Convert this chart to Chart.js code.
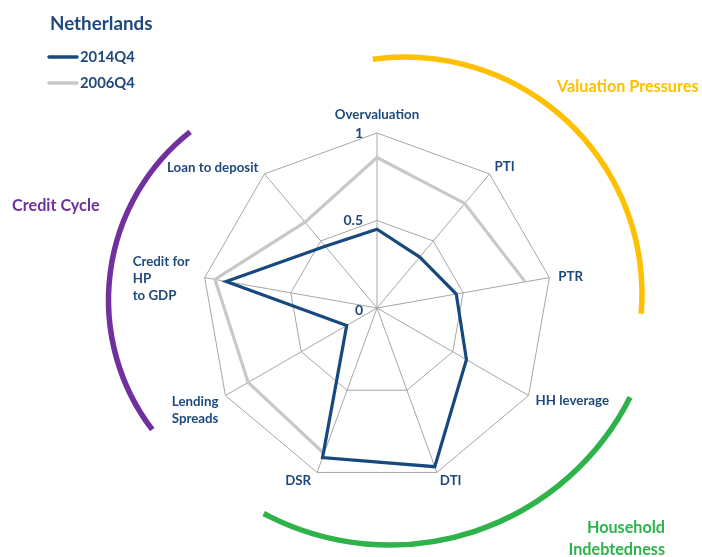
<!DOCTYPE html>
<html>
<head>
<meta charset="utf-8">
<script src="https://cdn.jsdelivr.net/npm/chart.js@4.4.1/dist/chart.umd.min.js"></script>
<style>
  html, body { margin: 0; padding: 0; background: #fff; }
  #wrap { position: relative; width: 702px; height: 557px; }
</style>
</head>
<body>
<div id="wrap"><canvas id="radar"></canvas></div>
<script>
// Data
const axisLabels = ['Overvaluation', 'PTI', 'PTR', 'HH leverage', 'DTI', 'DSR',
  ['Lending', 'Spreads'], ['Credit for', 'HP', 'to GDP'], 'Loan to deposit'];
const seriesNames = ['2014Q4', '2006Q4'];
const values2014 = [0.45, 0.38, 0.46, 0.59, 0.965, 0.91, 0.20, 0.875, 0.46];
const values2006 = [0.86, 0.78, 0.86, null, null, 0.885, 0.85, 0.94, 0.64];
const tickValues = [0, 0.5, 1];
const groupNames = ['Valuation Pressures', ['Household', 'Indebtedness'], 'Credit Cycle'];

const navy = '#1F497D';
const lineBlue = '#17497E';
const lineGrey = '#C8C8C8';
const FONT = 'Lato, "Open Sans", sans-serif';

function font(size) { return 'bold ' + size + 'px ' + FONT; }

function drawText(ctx, lines, x, y, align, lh) {
  ctx.textAlign = align;
  ctx.textBaseline = 'middle';
  [].concat(lines).forEach((t, i) => ctx.fillText(t, x, y + i * lh));
}

const overlay = {
  id: 'overlay',
  afterDatasetsDraw(chart) {
    const ctx = chart.ctx;
    const r = chart.scales.r;
    ctx.save();

    // point labels around the web
    ctx.fillStyle = navy;
    ctx.font = font(13.3);
    const off = [
      [0, -18, 'center'], [5, -7, 'left'], [9, -1, 'left'], [7, 5, 'left'],
      [3, 8, 'left'], [-6, 8, 'right'], [-7, 6, 'right'], [-72, -16, 'left'], [-6, -6, 'right']
    ];
    axisLabels.forEach((lab, i) => {
      const p = r.getPointPosition(i, r.drawingArea);
      const o = off[i];
      drawText(ctx, lab, p.x + o[0], p.y + o[1], o[2], 17);
    });

    // tick labels on the vertical axis
    ctx.font = font(14);
    tickValues.forEach(v => {
      const p = r.getPointPosition(0, r.getDistanceFromCenterForValue(v));
      drawText(ctx, String(v), r.xCenter - 14, p.y + (v === 0 ? 2 : 0), 'right', 0);
    });

    // group arcs
    ctx.lineWidth = 5.5;
    ctx.lineCap = 'butt';
    const deg = Math.PI / 180;
    const arcs = [
      ['#FFC000', 405, 294, 237, -97.8, 4.8],
      ['#2DB34A', 390, 276, 269, 26.8, 118],
      ['#7030A0', 322.5, 300, 214, 142.7, 231.8]
    ];
    arcs.forEach(a => {
      ctx.strokeStyle = a[0];
      ctx.beginPath();
      ctx.arc(a[1], a[2], a[3], a[4] * deg, a[5] * deg);
      ctx.stroke();
    });

    ctx.font = font(16.2);
    ctx.fillStyle = '#FFC000';
    drawText(ctx, groupNames[0], 557, 87, 'left', 0);
    ctx.fillStyle = '#2DB34A';
    drawText(ctx, groupNames[1], 665, 528, 'right', 22);
    ctx.fillStyle = '#7030A0';
    drawText(ctx, groupNames[2], 12, 206, 'left', 0);

    // title and legend
    ctx.fillStyle = navy;
    ctx.font = font(18.8);
    drawText(ctx, 'Netherlands', 50, 24, 'left', 0);
    ctx.font = font(14.8);
    ctx.lineWidth = 3.5;
    ctx.lineCap = 'round';
    [lineBlue, lineGrey].forEach((c, i) => {
      const y = 57 + i * 26;
      ctx.strokeStyle = c;
      ctx.beginPath();
      ctx.moveTo(49, y);
      ctx.lineTo(77, y);
      ctx.stroke();
      drawText(ctx, seriesNames[i], 80, y, 'left', 0);
    });

    ctx.restore();
  }
};

new Chart(document.getElementById('radar'), {
  type: 'radar',
  data: {
    labels: axisLabels,
    datasets: [
      { label: seriesNames[0], data: values2014, borderColor: lineBlue, borderWidth: 3.2,
        pointRadius: 0, pointHoverRadius: 0, fill: false, borderJoinStyle: 'miter' },
      { label: seriesNames[1], data: values2006, borderColor: lineGrey, borderWidth: 3.2,
        pointRadius: 0, pointHoverRadius: 0, fill: false, borderJoinStyle: 'miter', spanGaps: false }
    ]
  },
  options: {
    responsive: true,
    maintainAspectRatio: false,
    animation: false,
    layout: { padding: { left: 202, right: 150, top: 133, bottom: 74 } },
    plugins: { legend: { display: false }, tooltip: { enabled: false } },
    scales: {
      r: {
        min: 0,
        max: 1,
        ticks: { display: false, stepSize: 0.5 },
        pointLabels: { display: false },
        grid: { color: '#A6A6A6', lineWidth: 1 },
        angleLines: { color: '#A6A6A6', lineWidth: 1 }
      }
    }
  },
  plugins: [overlay]
});
</script>
</body>
</html>
